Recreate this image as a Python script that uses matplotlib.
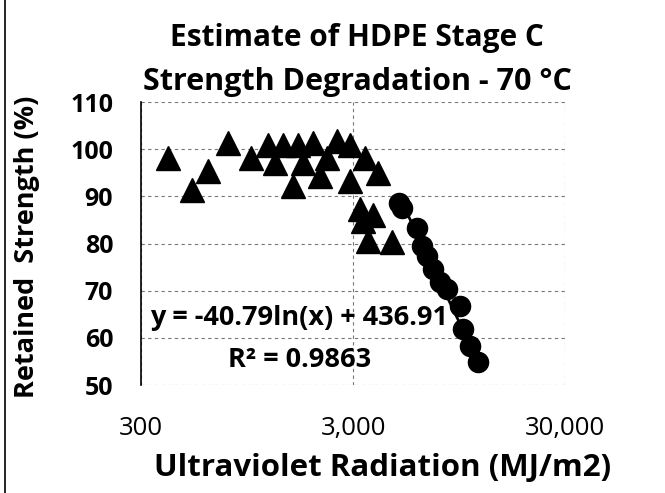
import matplotlib
matplotlib.use("Agg")
import matplotlib.pyplot as plt
import numpy as np
from matplotlib.ticker import FixedLocator, FixedFormatter, NullLocator

# Triangle series (earlier data)
tri_x = [402, 522, 621, 771, 991, 1191, 1285, 1403, 1563, 1651, 1743, 1943, 2096,
         2260, 2520, 2904, 2904, 3420, 3237, 3343, 3529, 3724, 3935, 4580]
tri_y = [98.1, 91.3, 95.3, 101.3, 98.1, 100.9, 97.0, 100.9, 92.3, 100.9, 97.0, 101.3, 94.3,
         98.1, 101.7, 100.9, 93.2, 98.1, 87.4, 84.7, 80.6, 86.0, 94.9, 80.4]

# Circle series (fitted data)
circ_x = [4950, 5100, 6010, 6350, 6700, 7150, 7710, 8320, 9590, 9900, 10700, 11660]
circ_y = [88.6, 87.6, 83.2, 79.4, 77.4, 74.7, 71.9, 70.4, 66.8, 61.9, 58.3, 54.9]

# Trendline coefficients
coef_a = -40.79
coef_b = 436.91

x_ticks = [300, 3000, 30000]
x_ticklabels = ["300", "3,000", "30,000"]
y_ticks = [50, 60, 70, 80, 90, 100, 110]

FONT = "Open Sans"

fig = plt.figure(figsize=(6.65, 4.93), dpi=100)
ax = fig.add_axes([0.212, 0.219, 0.638, 0.574])

ax.set_xscale("log")
ax.set_xlim(300, 30000)
ax.set_ylim(50, 110)

ax.xaxis.set_major_locator(FixedLocator(x_ticks))
ax.xaxis.set_major_formatter(FixedFormatter(x_ticklabels))
ax.xaxis.set_minor_locator(NullLocator())
ax.set_yticks(y_ticks)

ax.grid(True, color="#777777", linestyle=(0, (3, 3)), linewidth=0.8)
for s in ["top", "right", "bottom"]:
    ax.spines[s].set_visible(False)
ax.spines["left"].set_color("black")
ax.spines["left"].set_linewidth(1.2)
ax.tick_params(axis="x", length=0, pad=22)
ax.tick_params(axis="y", length=0, pad=20)

for lbl in ax.get_xticklabels():
    lbl.set_fontfamily(FONT)
    lbl.set_fontsize(18.5)
for lbl in ax.get_yticklabels():
    lbl.set_fontfamily(FONT)
    lbl.set_fontweight("bold")
    lbl.set_fontsize(18)

ax.plot(tri_x, tri_y, linestyle="none", marker="^", markersize=17, color="black")
ax.plot(circ_x, circ_y, linestyle="none", marker="o", markersize=14.5, color="black")
tx = np.array([min(circ_x), max(circ_x)])
ax.plot(tx, coef_a * np.log(tx) + coef_b, color="black", linewidth=2)

ax.text(0.373, 0.237, "y = -40.79ln(x) + 436.91", transform=ax.transAxes,
        ha="center", va="center", fontsize=19.5, fontweight="bold", family=FONT)
ax.text(0.373, 0.09, "R² = 0.9863", transform=ax.transAxes,
        ha="center", va="center", fontsize=19.5, fontweight="bold", family=FONT)

fig.text(0.537, 0.923, "Estimate of HDPE Stage C", ha="center", va="center",
         fontsize=21.5, fontweight="bold", family=FONT)
fig.text(0.537, 0.834, "Strength Degradation - 70 °C", ha="center", va="center",
         fontsize=22, fontweight="bold", family=FONT)

fig.text(0.575, 0.05, "Ultraviolet Radiation (MJ/m2)", ha="center", va="center",
         fontsize=22.5, fontweight="bold", family=FONT)
fig.text(0.041, 0.50, "Retained  Strength (%)", ha="center", va="center",
         rotation=90, fontsize=19.5, fontweight="bold", family=FONT)

fig.add_artist(plt.Line2D([0.008, 0.008], [0.0, 1.0], color="black", linewidth=1.2,
                          transform=fig.transFigure))

fig.savefig("out.png", dpi=100)
